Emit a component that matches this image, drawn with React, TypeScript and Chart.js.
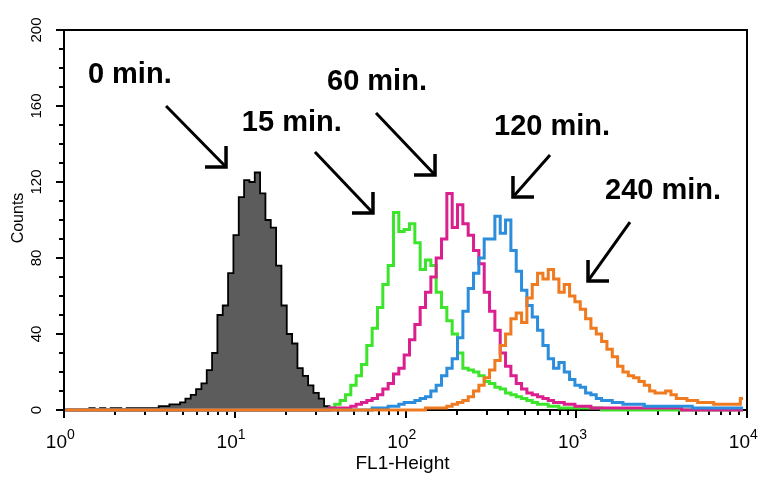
import React, { useEffect, useRef } from 'react';
import { Chart, registerables } from 'chart.js';

Chart.register(...registerables);

// ---- Instrument / binning (FL1 log amplifier: 1024 channels over 4 decades) ----
const CHANNELS_PER_DECADE = 256;
const CHANNELS_PER_BIN = 8;
const BIN_COUNT = 128;
const BIN_CENTER_OFFSET = 2;

// ---- Axis ticks ----
const X_DECADES = [1, 10, 100, 1000, 10000];
const X_TICK_EXPONENTS = ['0', '1', '2', '3', '4'];
const X_MINOR_MULTIPLIERS = [2, 3, 4, 5, 6, 7, 8, 9];
const Y_MAJOR_TICKS = [0, 40, 80, 120, 160, 200];
const Y_TICK_LABELS = ['0', '40', '80', '120', '160', '200'];
const Y_MINOR_TICKS = [10, 20, 30, 50, 60, 70, 90, 100, 110, 130, 140, 150, 170, 180, 190];
const X_TITLE = 'FL1-Height';
const Y_TITLE = 'Counts';

// ---- Series (counts per bin, starting at the given bin index) ----
const SERIES_LABELS = ['0 min.', '15 min.', '60 min.', '120 min.', '240 min.'];

const MIN0_START = 5;
const MIN0_COUNTS = [
  1, 0, 1, 0, 1, 1, 0, 1, 1, 1, 1, 1,
  1, 2, 2, 3, 3, 4, 6, 8, 11, 14, 21, 30, 50, 55, 72, 92, 112, 121, 120, 125,
  114, 100, 96, 76, 55, 40, 35, 22, 18, 13, 9, 6, 2, 1,
];

const MIN15_START = 49;
const MIN15_COUNTS = [
  0, 1, 3, 5, 8, 13, 18, 24, 34, 43, 54, 66, 76, 104, 94, 95, 98, 88, 74, 79,
  76, 62, 54, 47, 40, 30, 22, 21, 20, 18, 15, 14, 12, 11, 9, 8, 7, 6, 5, 4,
  3, 3, 2, 2, 1, 1, 1, 1, 1, 1, 1, 1,
];

const MIN60_START = 50;
const MIN60_COUNTS = [
  1, 1, 1, 1, 2, 3, 4, 5, 6, 8, 11, 14, 19, 22, 29, 37, 45, 54, 62, 70,
  80, 90, 114, 96, 108, 98, 92, 84, 77, 62, 52, 42, 30, 23, 18, 14, 11, 9, 8, 7,
  6, 5, 4, 4, 3, 3, 2, 2, 2, 1, 1, 1, 1, 1, 1, 1, 1, 1, 1, 1, 1, 1, 1, 1, 1, 1,
];

const MIN120_START = 58;
const MIN120_COUNTS = [
  1, 1, 1, 2, 2, 3, 4, 4, 5, 6, 7, 10, 13, 18, 22, 27, 38, 52, 64, 72,
  80, 90, 90, 102, 93, 100, 84, 73, 63, 55, 49, 42, 34, 27, 22, 25, 20, 16, 13, 12,
  9, 8, 6, 5, 5, 4, 4, 3, 3, 3, 3, 2, 2, 2, 2, 2, 2, 2, 2, 2,
  1, 1, 1, 1, 1, 1, 1, 1, 1, 1,
];

const MIN240_START = 68;
const MIN240_COUNTS = [
  1, 1, 1, 1, 2, 3, 4, 5, 7, 10, 13, 17, 21, 26, 34, 40, 48, 51, 46, 59,
  66, 72, 69, 74, 69, 62, 66, 60, 57, 53, 48, 43, 40, 36, 32, 28, 23, 20, 18, 17,
  15, 13, 10, 9, 9, 10, 8, 6, 6, 5, 5, 4, 4, 4, 3, 3, 3, 3, 3, 6,
];

// ---- Annotations (positions in data units: FL1 value, counts) ----
const ANNOTATION_TEXT = ['0 min.', '15 min.', '60 min.', '120 min.', '240 min.'];
const ANNOTATION_TEXT_X = [1.38, 11.0, 34.7, 330, 1474];
const ANNOTATION_TEXT_Y = [172.1, 146.8, 168.4, 144.7, 111.1];
const ARROW_TAIL_X = [3.96, 29.5, 67.2, 702, 2064];
const ARROW_TAIL_Y = [160, 135.8, 156.3, 134.2, 98.9];
const ARROW_TIP_X = [8.89, 64.5, 148.9, 426, 1172];
const ARROW_TIP_Y = [127.9, 103.7, 123.7, 112.1, 67.9];

const FONT = "'Liberation Sans', Arial, sans-serif";

function buildSeries(start: number, counts: number[]) {
  const pts: { x: number; y: number }[] = [];
  for (let k = 0; k < BIN_COUNT; k++) {
    const i = k - start;
    const y = i >= 0 && i < counts.length ? counts[i] : 0;
    const channel = k * CHANNELS_PER_BIN + BIN_CENTER_OFFSET;
    pts.push({ x: Math.pow(10, channel / CHANNELS_PER_DECADE), y });
  }
  return pts;
}

const framePlugin = {
  id: 'facsFrame',
  beforeDatasetsDraw(chart: any) {
    const { ctx, chartArea: a } = chart;
    const xs = chart.scales.x;
    const ys = chart.scales.y;
    ctx.save();
    ctx.strokeStyle = '#000';
    ctx.lineWidth = 2;
    ctx.strokeRect(a.left, a.top, a.right - a.left, a.bottom - a.top);

    ctx.lineWidth = 2;
    ctx.beginPath();
    Y_MAJOR_TICKS.forEach((v) => {
      const py = Math.round(ys.getPixelForValue(v));
      ctx.moveTo(a.left - 8, py);
      ctx.lineTo(a.left, py);
    });
    Y_MINOR_TICKS.forEach((v) => {
      const py = Math.round(ys.getPixelForValue(v));
      ctx.moveTo(a.left - 5, py);
      ctx.lineTo(a.left, py);
    });
    X_DECADES.forEach((d, i) => {
      const px = Math.round(xs.getPixelForValue(d));
      ctx.moveTo(px, a.bottom);
      ctx.lineTo(px, a.bottom + 8);
      if (i < X_DECADES.length - 1) {
        X_MINOR_MULTIPLIERS.forEach((m) => {
          const mx = Math.round(xs.getPixelForValue(d * m));
          ctx.moveTo(mx, a.bottom);
          ctx.lineTo(mx, a.bottom + 5);
        });
      }
    });
    ctx.stroke();

    ctx.fillStyle = '#000';
    ctx.font = `15px ${FONT}`;
    ctx.textAlign = 'center';
    ctx.textBaseline = 'middle';
    Y_MAJOR_TICKS.forEach((v, i) => {
      const py = ys.getPixelForValue(v);
      ctx.save();
      ctx.translate(a.left - 27, py);
      ctx.rotate(-Math.PI / 2);
      ctx.fillText(Y_TICK_LABELS[i], 0, 0);
      ctx.restore();
    });
    ctx.save();
    ctx.translate(19, (a.top + a.bottom) / 2 - 2);
    ctx.rotate(-Math.PI / 2);
    ctx.font = `16px ${FONT}`;
    ctx.fillText(Y_TITLE, 0, 0);
    ctx.restore();

    ctx.textBaseline = 'alphabetic';
    X_DECADES.forEach((d, i) => {
      const px = xs.getPixelForValue(d);
      ctx.font = `19px ${FONT}`;
      ctx.textAlign = 'right';
      ctx.fillText('10', px + 3, a.bottom + 38);
      ctx.font = `14px ${FONT}`;
      ctx.textAlign = 'left';
      ctx.fillText(X_TICK_EXPONENTS[i], px + 3, a.bottom + 29);
    });
    ctx.font = `19px ${FONT}`;
    ctx.textAlign = 'center';
    ctx.fillText(X_TITLE, (a.left + a.right) / 2 - 3, a.bottom + 59);
    ctx.restore();
  },
  afterDraw(chart: any) {
    const { ctx } = chart;
    const xs = chart.scales.x;
    const ys = chart.scales.y;
    ctx.save();
    ctx.fillStyle = '#000';
    ctx.strokeStyle = '#000';
    ctx.font = `bold 29px ${FONT}`;
    ctx.textAlign = 'left';
    ctx.textBaseline = 'alphabetic';
    ANNOTATION_TEXT.forEach((t, i) => {
      ctx.fillText(t, xs.getPixelForValue(ANNOTATION_TEXT_X[i]), ys.getPixelForValue(ANNOTATION_TEXT_Y[i]));
      const tx = xs.getPixelForValue(ARROW_TAIL_X[i]);
      const ty = ys.getPixelForValue(ARROW_TAIL_Y[i]);
      const hx = xs.getPixelForValue(ARROW_TIP_X[i]);
      const hy = ys.getPixelForValue(ARROW_TIP_Y[i]);
      ctx.lineWidth = 3;
      ctx.lineCap = 'butt';
      ctx.beginPath();
      ctx.moveTo(tx, ty);
      ctx.lineTo(hx, hy);
      ctx.stroke();
      const side = tx < hx ? -1 : 1;
      ctx.lineJoin = 'miter';
      ctx.lineWidth = 3.5;
      ctx.beginPath();
      ctx.moveTo(hx + side * 21, hy);
      ctx.lineTo(hx, hy);
      ctx.lineTo(hx, hy - 21);
      ctx.stroke();
    });
    ctx.restore();
  },
};

export default function App() {
  const canvasRef = useRef<HTMLCanvasElement | null>(null);

  useEffect(() => {
    document.body.style.margin = '0';
    const canvas = canvasRef.current;
    if (!canvas) return;
    const lineDs = (label: string, start: number, counts: number[], color: string, order: number) => ({
      label,
      data: buildSeries(start, counts),
      borderColor: color,
      backgroundColor: color,
      borderWidth: 3,
      pointRadius: 0,
      stepped: 'middle' as const,
      fill: false,
      clip: 4,
      order,
    });
    const chart = new Chart(canvas, {
      type: 'line',
      data: {
        datasets: [
          {
            label: SERIES_LABELS[0],
            data: buildSeries(MIN0_START, MIN0_COUNTS),
            borderColor: '#000000',
            backgroundColor: '#5c5c5c',
            borderWidth: 1.8,
            pointRadius: 0,
            stepped: 'middle' as const,
            fill: 'origin',
            clip: 4,
            order: 5,
          },
          lineDs(SERIES_LABELS[1], MIN15_START, MIN15_COUNTS, '#3ce42c', 4),
          lineDs(SERIES_LABELS[2], MIN60_START, MIN60_COUNTS, '#dc1f8e', 3),
          lineDs(SERIES_LABELS[3], MIN120_START, MIN120_COUNTS, '#2b8ddb', 2),
          lineDs(SERIES_LABELS[4], MIN240_START, MIN240_COUNTS, '#f07a20', 1),
        ],
      },
      options: {
        responsive: false,
        animation: false,
        events: [],
        layout: { padding: { left: 64, top: 30, right: 16, bottom: 68 } },
        scales: {
          x: { type: 'logarithmic', min: 1, max: 10000, display: false },
          y: { type: 'linear', min: 0, max: 200, display: false },
        },
        plugins: {
          legend: { display: false },
          tooltip: { enabled: false },
        },
      },
      plugins: [framePlugin],
    });
    return () => chart.destroy();
  }, []);

  return (
    <div style={{ width: 763, height: 478, background: '#ffffff' }}>
      <canvas ref={canvasRef} width={763} height={478} style={{ display: 'block' }} />
    </div>
  );
}
